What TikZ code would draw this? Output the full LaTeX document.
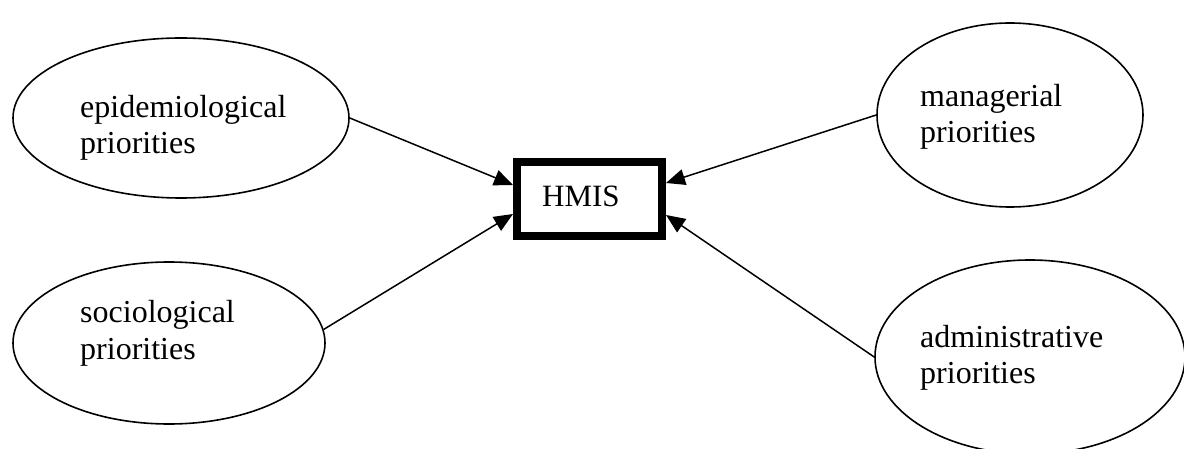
\documentclass[tikz,border=0pt]{standalone}
\usepackage{fontspec}
\setmainfont{Liberation Serif}
\usetikzlibrary{shapes.geometric,arrows.meta}
\tikzset{
  prio/.style={draw, ellipse, line width=1.6pt, inner sep=0pt},
  lbl/.style={anchor=base west, align=left, inner sep=0pt,
    font=\fontsize{32}{36}\selectfont},
  boxlbl/.style={anchor=base west, inner sep=0pt,
    font=\fontsize{31}{36}\selectfont},
  core/.style={draw, rectangle, line width=8pt, inner sep=0pt,
    minimum width=145pt, minimum height=74pt},
  feed/.style={line width=1.5pt, -{Triangle[length=19pt,width=16pt]}}
}
\begin{document}
\begin{tikzpicture}[x=1pt,y=-1pt]
\useasboundingbox (0,0) rectangle (1184,449);

% four priority ellipses
\node[prio, minimum width=336pt, minimum height=160pt] (epi) at (181,118) {};
\node[prio, minimum width=312pt, minimum height=162pt] (soc) at (169,343) {};
\node[prio, minimum width=266pt, minimum height=184pt] (man) at (1010,115) {};
\node[prio, minimum width=310pt, minimum height=194pt] (adm) at (1030,357) {};

% their labels (anchored on the baseline of the last line)
\node[lbl] (epit) at (80,154) {epidemiological\\priorities};
\node[lbl] (soct) at (80,359) {sociological\\priorities};
\node[lbl] (mant) at (920,143) {managerial\\priorities};
\node[lbl] (admt) at (920,383) {administrative\\priorities};

% central system box and its label
\node[core] (hmis) at (589.5,199) {};
\node[boxlbl] (hmist) at (542,207) {HMIS};

% connectors into the box
\draw[feed] (epi.east) -- ([yshift=14pt]hmis.west);
\draw[feed] (soc.5) -- ([yshift=-15pt]hmis.west);
\draw[feed] (man.west) -- ([yshift=16pt]hmis.east);
\draw[feed] (adm.west) -- ([yshift=-16pt]hmis.east);
\end{tikzpicture}
\end{document}
